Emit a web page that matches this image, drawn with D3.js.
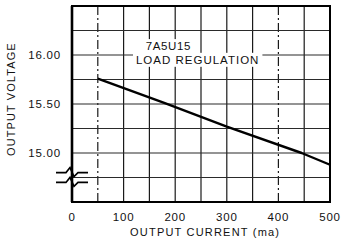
<!DOCTYPE html>
<html>
<head>
<meta charset="utf-8">
<script src="https://cdn.jsdelivr.net/npm/d3@7"></script>
<style>
  body { margin: 0; background: #fff; }
  text { font-family: "Liberation Sans", Arial, sans-serif; fill: #111; }
</style>
</head>
<body>
<svg width="342" height="241"></svg>
<script>
var margin = {top: 6, right: 12, bottom: 39, left: 72};
var width = 342 - margin.left - margin.right,
    height = 241 - margin.top - margin.bottom;

// data
var current = [50, 180, 300, 445, 500];
var voltage = [15.76, 15.51, 15.27, 15.00, 14.88];

var xTicks = [0, 100, 200, 300, 400, 500];
var yTicks = [15.00, 15.50, 16.00];
var xGrid = [50, 100, 150, 200, 250, 300, 350, 400, 450];
var yGrid = [14.75, 15.00, 15.25, 15.50, 15.75, 16.00, 16.25];
var dashedX = [50, 400];

var x = d3.scaleLinear().domain([0, 500]).range([0, width]);
var y = d3.scaleLinear().domain([14.5, 16.5]).range([height, 0]);

var svg = d3.select("svg")
  .append("g")
    .attr("transform", `translate(${margin.left}, ${margin.top})`);

// grid
svg.append("g").selectAll("line")
    .data(xGrid)
  .enter().append("line")
    .attr("x1", d => x(d)).attr("x2", d => x(d))
    .attr("y1", 0).attr("y2", height)
    .attr("stroke", "#1a1a1a")
    .attr("stroke-width", 1.2)
    .attr("stroke-dasharray", d => dashedX.includes(d) ? "9,3,2,3" : null);

svg.append("g").selectAll("line")
    .data(yGrid)
  .enter().append("line")
    .attr("x1", 0).attr("x2", width)
    .attr("y1", d => y(d)).attr("y2", d => y(d))
    .attr("stroke", "#2a2a2a")
    .attr("stroke-width", 1.1);

// annotation with white backing
var note = svg.append("g");
var t1 = note.append("text")
    .attr("x", x(143)).attr("y", y(16.05))
    .attr("font-size", 11.5).attr("letter-spacing", 0.6)
    .text("7A5U15");
var t2 = note.append("text")
    .attr("x", x(124)).attr("y", y(15.91))
    .attr("font-size", 11.5).attr("letter-spacing", 1)
    .text("LOAD REGULATION");
[t1, t2].forEach(function(t) {
  var b = t.node().getBBox();
  note.insert("rect", "text")
    .attr("x", b.x - 3).attr("y", b.y - 1)
    .attr("width", b.width + 6).attr("height", b.height + 2)
    .attr("fill", "#fff");
});

// frame
svg.append("rect")
    .attr("width", width).attr("height", height)
    .attr("fill", "none")
    .attr("stroke", "#000")
    .attr("stroke-width", 2);
svg.append("line")
    .attr("x1", 0).attr("x2", 0).attr("y1", 0).attr("y2", height)
    .attr("stroke", "#000").attr("stroke-width", 2.6);

// curve
var line = d3.line()
    .x((d, i) => x(current[i]))
    .y(d => y(d));
svg.append("path")
    .attr("d", line(voltage))
    .attr("fill", "none")
    .attr("stroke", "#000")
    .attr("stroke-width", 2.4)
    .attr("stroke-linejoin", "round");

// axis break marks
var brk = d3.line();
[14.8, 14.7].forEach(function(v) {
  var yy = y(v);
  svg.append("path")
    .attr("d", brk([[-16, yy], [-6, yy], [-2, yy - 5], [2, yy + 4], [6, yy], [16, yy]]))
    .attr("fill", "none")
    .attr("stroke", "#000")
    .attr("stroke-width", 1.6);
});

// tick labels
svg.append("g").selectAll("text")
    .data(xTicks)
  .enter().append("text")
    .attr("x", d => x(d))
    .attr("y", height + 19)
    .attr("text-anchor", "middle")
    .attr("font-size", 11.5)
    .attr("letter-spacing", 0.8)
    .text(d => d);

svg.append("g").selectAll("text")
    .data(yTicks)
  .enter().append("text")
    .attr("x", -11)
    .attr("y", d => y(d))
    .attr("dy", "0.36em")
    .attr("text-anchor", "end")
    .attr("font-size", 11.5)
    .attr("letter-spacing", 0.8)
    .text(d3.format(".2f"));

// axis titles
svg.append("text")
    .attr("x", x(258))
    .attr("y", height + 34)
    .attr("text-anchor", "middle")
    .attr("font-size", 11)
    .attr("letter-spacing", 1.2)
    .text("OUTPUT CURRENT (ma)");

svg.append("text")
    .attr("transform", `translate(${-57}, ${y(15.55)}) rotate(-90)`)
    .attr("text-anchor", "middle")
    .attr("font-size", 11)
    .attr("letter-spacing", 1.1)
    .text("OUTPUT VOLTAGE");
</script>
</body>
</html>
